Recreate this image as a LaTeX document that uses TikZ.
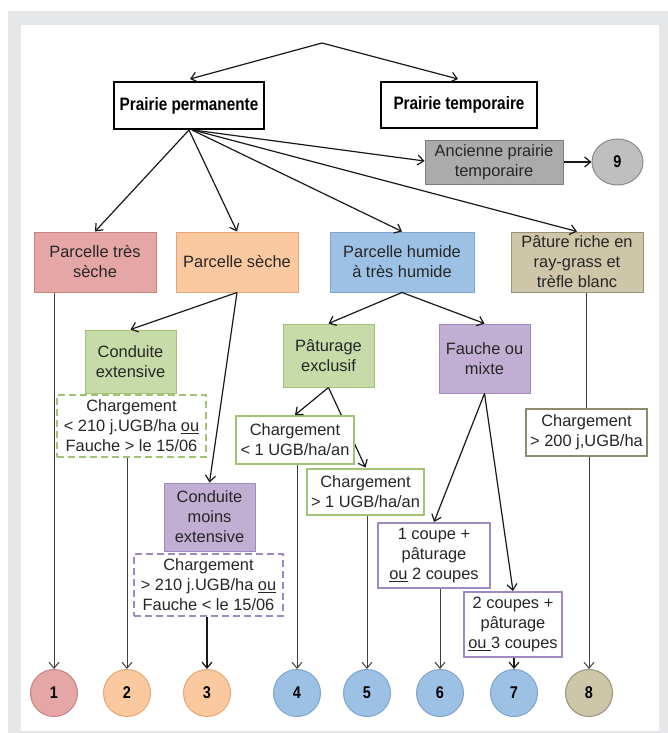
\documentclass[tikz,border=0pt]{standalone}
\usepackage{fontspec}
\setmainfont{Liberation Sans}
\newfontfamily\narrowbf{Liberation Sans}[FakeStretch=0.85]
\usetikzlibrary{arrows.meta,backgrounds,calc,shapes.geometric}
\definecolor{frame}{HTML}{E6E7E9}
\definecolor{txt}{HTML}{262626}
\definecolor{redf}{HTML}{E5A7A6}\definecolor{redd}{HTML}{C98281}
\definecolor{orf}{HTML}{FAC9A0}\definecolor{ord}{HTML}{E7A675}
\definecolor{bluf}{HTML}{9DC1E4}\definecolor{blud}{HTML}{7EA4CF}
\definecolor{khf}{HTML}{CDC6A8}\definecolor{khd}{HTML}{9A9272}
\definecolor{grf}{HTML}{C6DBA7}\definecolor{grd}{HTML}{A3C275}
\definecolor{puf}{HTML}{C0AFD3}\definecolor{pud}{HTML}{A088C0}
\definecolor{gyf}{HTML}{ABABAB}\definecolor{gyd}{HTML}{7F7F7F}
\definecolor{gcf}{HTML}{BFBFBF}\definecolor{gcd}{HTML}{8A8A8A}
\definecolor{oliv}{HTML}{8E8A6C}
\begin{document}
\begin{tikzpicture}[x=1pt,y=-1pt,
  base/.style={draw, inner sep=0pt, align=center, text=txt,
    font=\fontsize{16.4}{20}\selectfont},
  pbox/.style={base, line width=2pt, draw=black, fill=white, text=black,
    font=\narrowbf\bfseries\fontsize{18}{22}\selectfont},
  cbox/.style={base, line width=1pt},
  chg/.style={base, fill=white, line width=2pt},
  dbox/.style={base, fill=white, line width=2pt, dash pattern=on 7pt off 4pt},
  circ/.style={ellipse, draw, line width=1pt, inner sep=0pt,
    minimum width=47pt, minimum height=47pt, text=black,
    font=\narrowbf\bfseries\fontsize{17}{20}\selectfont},
  arr/.style={-{Straight Barb[length=6pt,width=10pt]}, line width=1.2pt, draw=black!90},
  varr/.style={-{Straight Barb[length=6pt,width=10pt]}, line width=1pt, draw=black!75},
  lin/.style={line width=1pt, draw=black!75}
]
\useasboundingbox (0,0) rectangle (668,733);

% top level
\coordinate (apex) at (322,43);
\node[pbox, minimum width=150pt, minimum height=47pt] (pp) at (189,105.5) {Prairie permanente};
\node[pbox, minimum width=156pt, minimum height=46pt] (pt) at (459,105) {Prairie temporaire};
\node[cbox, fill=gyf, draw=gyd, minimum width=138pt, minimum height=44pt] (anc) at (494,162) {Ancienne prairie\\temporaire};
\node[circ, fill=gcf, draw=gcd, minimum width=51pt, minimum height=46pt] (n9) at (617.5,162) {9};

% second level
\node[cbox, fill=redf, draw=redd, minimum width=122pt, minimum height=60pt] (ts) at (95,262) {Parcelle très\\sèche};
\node[cbox, fill=orf, draw=ord, minimum width=122pt, minimum height=60pt] (sec) at (237,262) {Parcelle sèche};
\node[cbox, fill=bluf, draw=blud, minimum width=144pt, minimum height=60pt] (hum) at (402,262) {Parcelle humide\\à très humide};
\node[cbox, fill=khf, draw=khd, minimum width=132pt, minimum height=60pt] (pat) at (577,262) {Pâture riche en\\ray-grass et\\trèfle blanc};

% dry branch
\node[cbox, fill=grf, draw=grd, minimum width=91pt, minimum height=63pt] (ce) at (130.5,361.5) {Conduite\\extensive};
\node[dbox, draw=grd, minimum width=149pt, minimum height=62pt] (dg) at (131.5,425.5) {Chargement\\< 210 j.UGB/ha \underline{ou}\\Fauche > le 15/06};
\node[cbox, fill=puf, draw=pud, minimum width=91pt, minimum height=68pt] (cme) at (209.5,517) {Conduite\\moins\\extensive};
\node[dbox, draw=pud, minimum width=149pt, minimum height=62pt] (dp) at (208.5,584.5) {Chargement\\> 210 j.UGB/ha \underline{ou}\\Fauche < le 15/06};

% humid branch
\node[cbox, fill=grf, draw=grd, minimum width=91pt, minimum height=63pt] (pex) at (328.5,355.5) {Pâturage\\exclusif};
\node[cbox, fill=puf, draw=pud, minimum width=91pt, minimum height=69pt] (fm) at (484.5,358.5) {Fauche ou\\mixte};
\node[chg, draw=grd, minimum width=118pt, minimum height=48pt] (c1) at (295,440) {Chargement\\< 1 UGB/ha/an};
\node[chg, draw=grd, minimum width=117pt, minimum height=46pt] (c2) at (365.5,491.5) {Chargement\\> 1 UGB/ha/an};
\node[chg, draw=pud, minimum width=112pt, minimum height=65pt] (cp1) at (434,555.5) {1 coupe +\\pâturage\\\underline{ou} 2 coupes};
\node[chg, draw=pud, minimum width=98pt, minimum height=65pt] (cp2) at (513,624.5) {2 coupes +\\pâturage\\\underline{ou }3 coupes};

% pasture branch
\node[base, fill=white, draw=oliv, line width=1.3pt, minimum width=121pt, minimum height=47pt] (c200) at (586.5,432.5) {Chargement\\> 200 j,UGB/ha};

% bottom circles
\node[circ, fill=redf, draw=redd] (o1) at (54,693) {1};
\node[circ, fill=orf, draw=ord] (o2) at (127,693) {2};
\node[circ, fill=orf, draw=ord] (o3) at (207,693) {3};
\node[circ, fill=bluf, draw=blud] (o4) at (297,693) {4};
\node[circ, fill=bluf, draw=blud] (o5) at (367,693) {5};
\node[circ, fill=bluf, draw=blud] (o6) at (440,693) {6};
\node[circ, fill=bluf, draw=blud] (o7) at (514,693) {7};
\node[circ, fill=khf, draw=khd] (o8) at (589,693) {8};

% connectors
\draw[arr] (apex) -- ($(pp.north)+(1,-2)$);
\draw[arr] (apex) -- ($(pt.north)+(-1,-2)$);
\draw[arr] (pp.south) -- (ts.north);
\draw[arr] (pp.south) -- (sec.north);
\draw[arr] ($(pp.south)+(3,0)$) -- (hum.north);
\draw[arr] ($(pp.south)+(4,0)$) -- (pat.north);
\draw[arr] ($(pp.south)+(4,0)$) -- ($(anc.west)+(0,-1)$);
\draw[arr] (anc.east) -- (n9.west);

\draw[varr] (ts.south -| o1.north) -- (o1.north);
\draw[arr] (sec.south) -- (ce.north);
\draw[arr] (sec.south) -- (cme.north);
\draw[varr] (dg.south -| o2.north) -- (o2.north);
\draw[arr] (dp.south -| o3.north) -- (o3.north);

\draw[arr] (hum.south) -- (pex.north);
\draw[arr] (hum.south) -- (fm.north);
\draw[arr] (pex.south) -- (c1.north);
\draw[varr] (c1.south -| o4.north) -- (o4.north);
\draw[varr] (c2.south -| o5.north) -- (o5.north);
\draw[arr] (fm.south) -- (cp1.north);
\draw[arr] (fm.south) -- (cp2.north);
\draw[varr] (cp1.south -| o6.north) -- (o6.north);
\draw[arr] (cp2.south -| o7.north) -- (o7.north);

\draw[lin] (pat.south -| c200.north) -- (c200.north);
\draw[varr] (c200.south -| o8.north) -- (o8.north);

\begin{scope}[on background layer]
  \fill[frame] (8,11) rectangle (668,733);
  \fill[white] (21,25) rectangle (659,731);
  \draw[arr] (pex.south) -- (c2.north);
\end{scope}
\end{tikzpicture}
\end{document}
